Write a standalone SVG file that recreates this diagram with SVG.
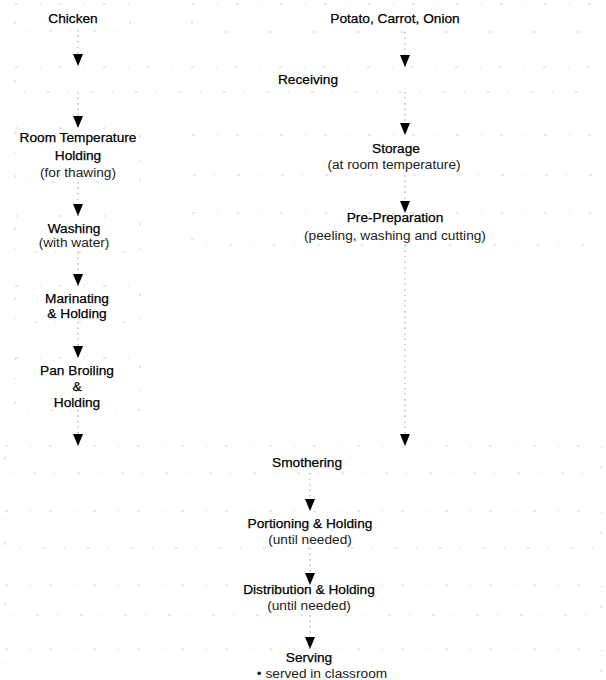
<svg xmlns="http://www.w3.org/2000/svg" width="606" height="680" viewBox="0 0 606 680">
<style>
.t{font-family:"Liberation Sans",Arial,sans-serif;font-size:13.7px;fill:#000;text-anchor:middle;stroke:#000;stroke-width:0.25}
.s{fill:#222;stroke:none}
.box{fill:none;stroke:#d4d4d4;stroke-width:1;stroke-dasharray:3 22 1 18}
.c{fill:none;stroke:#a0a0a0;stroke-width:1;stroke-dasharray:1.5 4}
</style>
<defs>
<marker id="ah" markerUnits="userSpaceOnUse" markerWidth="13" markerHeight="11" refX="12" refY="5" orient="auto">
<path d="M0,0 L12,5 L0,10 z" fill="#000"/>
</marker>
</defs>
<rect width="606" height="680" fill="#fff"/>
<g id="connectors">
<line class="c" x1="78" y1="30" x2="78" y2="66" marker-end="url(#ah)"/>
<line class="c" x1="78" y1="92" x2="78" y2="128" marker-end="url(#ah)"/>
<line class="c" x1="78" y1="182" x2="78" y2="216" marker-end="url(#ah)"/>
<line class="c" x1="78" y1="252" x2="78" y2="286" marker-end="url(#ah)"/>
<line class="c" x1="78" y1="322" x2="78" y2="358" marker-end="url(#ah)"/>
<line class="c" x1="78" y1="410" x2="78" y2="446" marker-end="url(#ah)"/>
<line class="c" x1="405" y1="32" x2="405" y2="67" marker-end="url(#ah)"/>
<line class="c" x1="405" y1="92" x2="405" y2="135" marker-end="url(#ah)"/>
<line class="c" x1="405" y1="175" x2="405" y2="213" marker-end="url(#ah)"/>
<line class="c" x1="405" y1="245" x2="405" y2="446" marker-end="url(#ah)"/>
<line class="c" x1="310" y1="473" x2="310" y2="511" marker-end="url(#ah)"/>
<line class="c" x1="310" y1="548" x2="310" y2="585" marker-end="url(#ah)"/>
<line class="c" x1="310" y1="615" x2="310" y2="649" marker-end="url(#ah)"/>
</g>
<g id="chicken"><rect class="box" x="15" y="4" width="115" height="27"/><text class="t" x="73" y="23">Chicken</text></g>
<g id="vegetables"><rect class="box" x="192" y="4" width="400" height="28"/><text class="t" x="395" y="23">Potato, Carrot, Onion</text></g>
<g id="receiving"><rect class="box" x="15" y="67" width="577" height="25"/><text class="t" x="308" y="84">Receiving</text></g>
<g id="room-temp"><rect class="box" x="15" y="128" width="125" height="54"/><text class="t" x="78" y="142">Room Temperature</text><text class="t" x="78" y="160">Holding</text><text class="t s" x="78" y="177">(for thawing)</text></g>
<g id="storage"><rect class="box" x="192" y="135" width="400" height="40"/><text class="t" x="396" y="153">Storage</text><text class="t s" x="394" y="169">(at room temperature)</text></g>
<g id="washing"><rect class="box" x="15" y="216" width="125" height="36"/><text class="t" x="74" y="233">Washing</text><text class="t s" x="74" y="247">(with water)</text></g>
<g id="pre-preparation"><rect class="box" x="192" y="213" width="400" height="32"/><text class="t" x="395" y="222">Pre-Preparation</text><text class="t s" x="395" y="240">(peeling, washing and cutting)</text></g>
<g id="marinating"><rect class="box" x="15" y="286" width="125" height="36"/><text class="t" x="77" y="303">Marinating</text><text class="t" x="77" y="318">&amp; Holding</text></g>
<g id="pan-broiling"><rect class="box" x="15" y="358" width="125" height="52"/><text class="t" x="77" y="375">Pan Broiling</text><text class="t" x="77" y="391">&amp;</text><text class="t" x="77" y="407">Holding</text></g>
<g id="smothering"><rect class="box" x="5" y="446" width="596" height="27"/><text class="t" x="307" y="467">Smothering</text></g>
<g id="portioning"><rect class="box" x="5" y="511" width="596" height="37"/><text class="t" x="310" y="528">Portioning &amp; Holding</text><text class="t s" x="310" y="544">(until needed)</text></g>
<g id="distribution"><rect class="box" x="5" y="585" width="596" height="30"/><text class="t" x="309" y="594">Distribution &amp; Holding</text><text class="t s" x="309" y="610">(until needed)</text></g>
<g id="serving"><rect class="box" x="5" y="649" width="596" height="40"/><text class="t" x="309" y="662">Serving</text><text class="t s" x="322" y="678" font-size="12.5px">• served in classroom</text></g>
</svg>
